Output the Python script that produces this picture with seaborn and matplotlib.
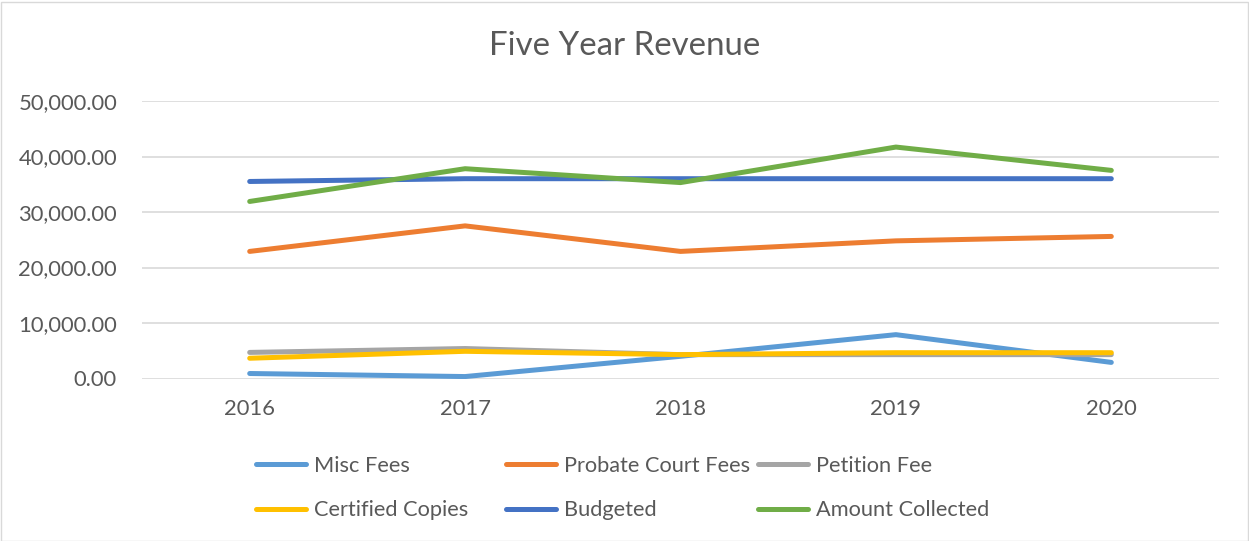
import numpy as np
import pandas as pd
import seaborn as sns
import matplotlib
matplotlib.use('Agg')
import matplotlib.pyplot as plt
from matplotlib.patches import Rectangle

# Data
years = [2016, 2017, 2018, 2019, 2020]
misc_fees = [900, 350, 4000, 7900, 2900]
probate_court_fees = [22900, 27500, 22900, 24800, 25600]
petition_fee = [4700, 5400, 4300, 4300, 4300]
certified_copies = [3650, 4900, 4300, 4650, 4650]
budgeted = [35500, 36000, 36000, 36000, 36000]
amount_collected = [31900, 37800, 35300, 41700, 37500]

series_names = ["Misc Fees", "Probate Court Fees", "Petition Fee",
                "Certified Copies", "Budgeted", "Amount Collected"]
series_values = [misc_fees, probate_court_fees, petition_fee,
                 certified_copies, budgeted, amount_collected]
colors = ["#5B9BD5", "#ED7D31", "#A5A5A5", "#FFC000", "#4472C4", "#70AD47"]

df = pd.concat([pd.DataFrame({"Year": years, "Value": v, "Series": n})
                for n, v in zip(series_names, series_values)], ignore_index=True)

sns.set_style("white")
plt.rcParams['font.family'] = ['Lato', 'DejaVu Sans']

fig = plt.figure(figsize=(12.49, 5.41), dpi=100)
ax = fig.add_axes([142 / 1249, 1 - 378.5 / 541, (1219 - 142) / 1249, (378.5 - 101) / 541])

sns.lineplot(data=df, x="Year", y="Value", hue="Series", hue_order=series_names,
             palette=dict(zip(series_names, colors)), linewidth=3.6,
             solid_capstyle='round', ax=ax, legend=False)

ax.set_xlim(2015.5, 2020.5)
ax.set_ylim(0, 50000)
ax.set_xticks(years)
ax.set_yticks(np.arange(0, 50001, 10000))
ax.yaxis.set_major_formatter(matplotlib.ticker.FuncFormatter(lambda v, p: f"{v:,.2f}"))
ax.grid(axis='y', color="#D9D9D9", linewidth=1.2)
ax.set_axisbelow(True)
for s in ax.spines.values():
    s.set_visible(False)
ax.tick_params(axis='both', length=0, labelsize=15.8, colors="#595959")
ax.tick_params(axis='y', pad=18)
ax.tick_params(axis='x', pad=15)
ax.set_xlabel("")
ax.set_ylabel("")

fig.text(0.5, 1 - 46 / 541, "Five Year Revenue", ha='center', va='center',
         fontsize=23.8, color="#595959")

# Legend in three columns, like the Excel layout
lines = ax.get_lines()
col_x = [245, 495, 747]
for c in range(3):
    hs = [lines[c], lines[c + 3]]
    labs = [series_names[c], series_names[c + 3]]
    leg = fig.legend(hs, labs, loc='upper left',
                     bbox_to_anchor=(col_x[c] / 1249, 1 - 445 / 541),
                     frameon=False, fontsize=15.7, handlelength=2.3,
                     handletextpad=0.37, labelspacing=1.12, borderpad=0,
                     labelcolor="#595959")
    for h in leg.legend_handles:
        h.set_solid_capstyle('round')

fig.patches.append(Rectangle((0.5 / 1249, 0.5 / 541), 1247 / 1249, 539 / 541,
                             transform=fig.transFigure, fill=False,
                             edgecolor="#D9D9D9", linewidth=1))

plt.savefig("out.png", dpi=100)
plt.close()
